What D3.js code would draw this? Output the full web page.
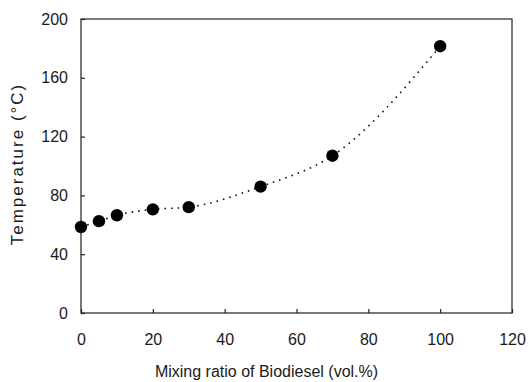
<!DOCTYPE html>
<html>
<head>
<meta charset="utf-8">
<script src="https://cdn.jsdelivr.net/npm/d3@7"></script>
<style>
  body { margin: 0; background: #fff; }
  text { font-family: "Liberation Sans", Arial, sans-serif; fill: #1a1a1a; }
</style>
</head>
<body>
<svg id="chart"></svg>
<script>
// data
const mixRatio = [0, 5, 10, 20, 30, 50, 70, 100];
const temperature = [58.5, 62.5, 66.5, 70.5, 72, 86, 107, 181.5];
const xTicks = [0, 20, 40, 60, 80, 100, 120];
const yTicks = [0, 40, 80, 120, 160, 200];

const width = 528;
const height = 382;
const margin = { top: 19, right: 16, bottom: 69, left: 81 };
const w = width - margin.left - margin.right;
const h = height - margin.top - margin.bottom;

const svg = d3.select("#chart")
  .attr("width", width)
  .attr("height", height);

const g = svg.append("g")
  .attr("transform", "translate(" + margin.left + "," + margin.top + ")");

const x = d3.scaleLinear().domain([0, 120]).range([0, w]);
const y = d3.scaleLinear().domain([0, 200]).range([h, 0]);

// frame
g.append("rect")
  .attr("width", w)
  .attr("height", h)
  .attr("fill", "none")
  .attr("stroke", "#222")
  .attr("stroke-width", 1.2);

// axes, ticks pointing inward
const xAxis = g.append("g")
  .attr("transform", "translate(0," + h + ")")
  .call(d3.axisBottom(x).tickValues(xTicks).tickSize(-4).tickPadding(21));

const yAxis = g.append("g")
  .call(d3.axisLeft(y).tickValues(yTicks).tickSize(-4).tickPadding(13));

[xAxis, yAxis].forEach(a => {
  a.select(".domain").remove();
  a.selectAll("line").attr("stroke", "#222").attr("stroke-width", 1.2);
  a.selectAll("text")
    .attr("fill", "#1a1a1a")
    .style("font-size", "16px")
    .style("font-family", "'Liberation Sans', Arial, sans-serif");
});

// dotted trend through the points
const line = d3.line()
  .x((d, i) => x(mixRatio[i]))
  .y(d => y(d))
  .curve(d3.curveMonotoneX);

g.append("path")
  .datum(temperature)
  .attr("fill", "none")
  .attr("stroke", "#111")
  .attr("stroke-width", 1.6)
  .attr("stroke-dasharray", "1.6,5")
  .attr("d", line);

// markers
g.selectAll("circle")
  .data(temperature)
  .join("circle")
  .attr("cx", (d, i) => x(mixRatio[i]))
  .attr("cy", d => y(d))
  .attr("r", 6.2)
  .attr("fill", "#000");

// axis titles
svg.append("text")
  .attr("x", margin.left + w / 2 - 30)
  .attr("y", 377)
  .attr("text-anchor", "middle")
  .style("font-size", "16px")
  .text("Mixing ratio of Biodiesel (vol.%)");

svg.append("text")
  .attr("transform", "translate(23," + 164 + ") rotate(-90)")
  .attr("text-anchor", "middle")
  .style("font-size", "17px")
  .style("letter-spacing", "2px")
  .text("Temperature (\u00B0C)");
</script>
</body>
</html>
